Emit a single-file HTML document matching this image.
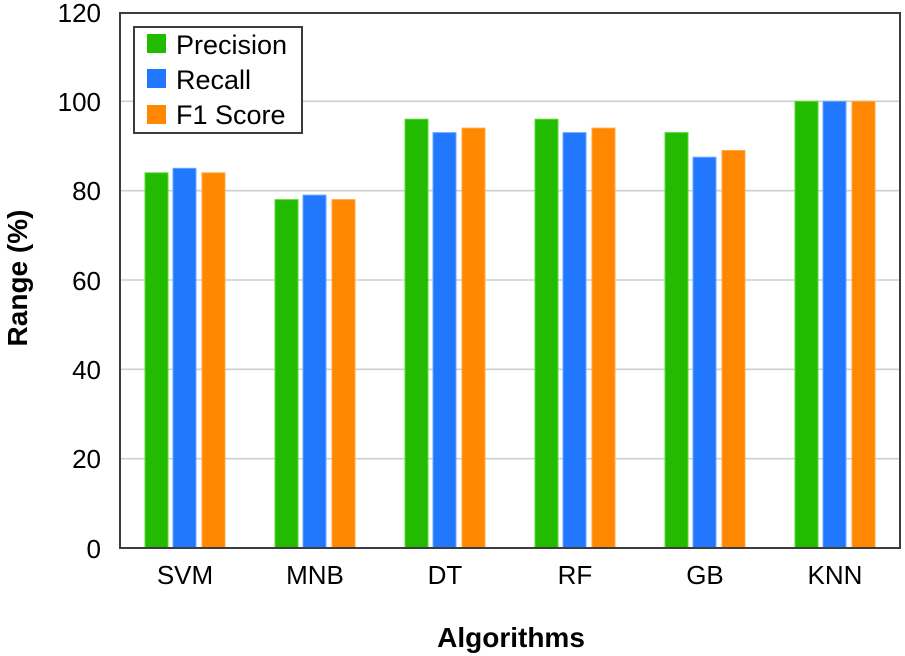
<!DOCTYPE html>
<html><head><meta charset="utf-8"><style>
html,body{margin:0;padding:0;background:#fff;}
svg{display:block;}
text{font-family:"Liberation Sans",sans-serif;fill:#000;}
</style></head><body>
<svg width="905" height="656" viewBox="0 0 905 656" xmlns="http://www.w3.org/2000/svg">
<rect x="0" y="0" width="905" height="656" fill="#fff"/>
<!-- gridlines -->
<g stroke="#c9d0d0" stroke-width="1.6">
<line x1="121" x2="899" y1="101.3" y2="101.3"/>
<line x1="121" x2="899" y1="190.7" y2="190.7"/>
<line x1="121" x2="899" y1="280" y2="280"/>
<line x1="121" x2="899" y1="369.3" y2="369.3"/>
<line x1="121" x2="899" y1="458.7" y2="458.7"/>
</g>
<!-- bars -->
<g stroke-width="1">
<!-- SVM -->
<rect x="145" y="172.8" width="23" height="375.2" fill="#22bb00" stroke="#55dd33"/>
<rect x="173" y="168.3" width="23" height="379.7" fill="#2277ff" stroke="#66aaff"/>
<rect x="202" y="172.8" width="23" height="375.2" fill="#ff8800" stroke="#ffaa44"/>
<!-- MNB -->
<rect x="275" y="199.6" width="23" height="348.4" fill="#22bb00" stroke="#55dd33"/>
<rect x="303" y="195.1" width="23" height="352.9" fill="#2277ff" stroke="#66aaff"/>
<rect x="332" y="199.6" width="23" height="348.4" fill="#ff8800" stroke="#ffaa44"/>
<!-- DT -->
<rect x="405" y="119.2" width="23" height="428.8" fill="#22bb00" stroke="#55dd33"/>
<rect x="433" y="132.6" width="23" height="415.4" fill="#2277ff" stroke="#66aaff"/>
<rect x="462" y="128.1" width="23" height="419.9" fill="#ff8800" stroke="#ffaa44"/>
<!-- RF -->
<rect x="535" y="119.2" width="23" height="428.8" fill="#22bb00" stroke="#55dd33"/>
<rect x="563" y="132.6" width="23" height="415.4" fill="#2277ff" stroke="#66aaff"/>
<rect x="592" y="128.1" width="23" height="419.9" fill="#ff8800" stroke="#ffaa44"/>
<!-- GB -->
<rect x="665" y="132.6" width="23" height="415.4" fill="#22bb00" stroke="#55dd33"/>
<rect x="693" y="157.2" width="23" height="390.8" fill="#2277ff" stroke="#66aaff"/>
<rect x="722" y="150.5" width="23" height="397.5" fill="#ff8800" stroke="#ffaa44"/>
<!-- KNN -->
<rect x="795" y="101.3" width="23" height="446.7" fill="#22bb00" stroke="#55dd33"/>
<rect x="823" y="101.3" width="23" height="446.7" fill="#2277ff" stroke="#66aaff"/>
<rect x="852" y="101.3" width="23" height="446.7" fill="#ff8800" stroke="#ffaa44"/>
</g>
<!-- frame -->
<rect x="120" y="13" width="780" height="535" fill="none" stroke="#3a3d3d" stroke-width="2"/>
<!-- y tick labels -->
<g font-size="26" text-anchor="end">
<text x="101" y="22">120</text>
<text x="101" y="111">100</text>
<text x="101" y="200">80</text>
<text x="101" y="290">60</text>
<text x="101" y="379">40</text>
<text x="101" y="468">20</text>
<text x="101" y="558">0</text>
</g>
<!-- x tick labels -->
<g font-size="26" text-anchor="middle">
<text x="185" y="584">SVM</text>
<text x="315" y="584">MNB</text>
<text x="445" y="584">DT</text>
<text x="575" y="584">RF</text>
<text x="705" y="584">GB</text>
<text x="835" y="584">KNN</text>
</g>
<!-- axis titles -->
<text x="511" y="647" font-size="28" font-weight="bold" text-anchor="middle">Algorithms</text>
<text transform="translate(27,278) rotate(-90)" font-size="28" font-weight="bold" text-anchor="middle">Range (%)</text>
<!-- legend -->
<rect x="134" y="27" width="168" height="106" fill="#fff" stroke="#3a3d3d" stroke-width="2"/>
<rect x="147" y="34" width="19" height="19" fill="#22bb00"/>
<rect x="147" y="69" width="19" height="19" fill="#2277ff"/>
<rect x="147" y="105" width="19" height="19" fill="#ff8800"/>
<g font-size="27">
<text x="176" y="54">Precision</text>
<text x="176" y="89">Recall</text>
<text x="176" y="124">F1 Score</text>
</g>
</svg>
</body></html>
